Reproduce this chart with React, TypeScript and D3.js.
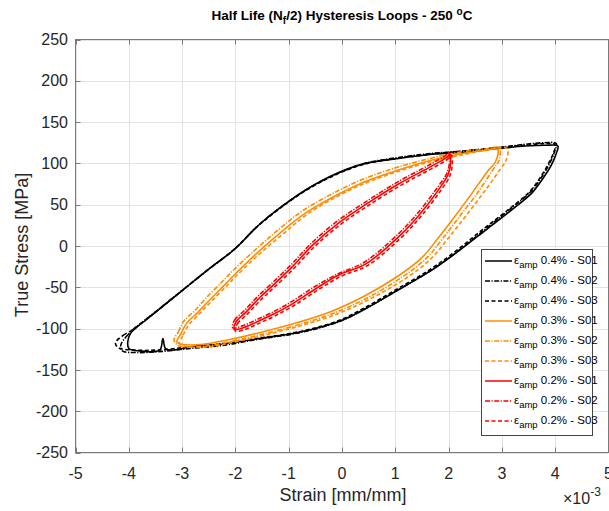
import * as d3 from "d3";

type Pt = [number, number];

// strain in units of 1e-3 mm/mm, stress in MPa
const strainTicks = [-5, -4, -3, -2, -1, 0, 1, 2, 3, 4, 5];
const stressTicks = [-250, -200, -150, -100, -50, 0, 50, 100, 150, 200, 250];

const black_S01: Pt[] = [
  [-4.02, -116], [-3.97, -106], [-3.86, -99], [-3.67, -89], [-3.42, -76], [-3.0, -54], [-2.5, -28], [-2.0, -3],
  [-1.55, 26], [-1.0, 54], [-0.55, 73], [-0.06, 89], [0.44, 100], [1.06, 106], [1.69, 111], [2.31, 114],
  [2.94, 118], [3.44, 121], [3.81, 122], [4.05, 121],
  [4.02, 112], [3.92, 97], [3.75, 80], [3.56, 64], [3.19, 44], [2.69, 19], [2.19, -6], [1.69, -29],
  [1.06, -53], [0.44, -76], [0.0, -90], [-0.5, -100], [-0.93, -106], [-1.55, -112], [-2.17, -118],
  [-2.8, -122], [-3.3, -125], [-3.36, -112], [-3.42, -126], [-3.8, -127], [-4.0, -124],
];
const black_S02: Pt[] = [
  [-4.15, -120], [-4.05, -110], [-3.9, -100], [-3.7, -90], [-3.45, -77], [-3.02, -55], [-2.52, -29], [-2.02, -4],
  [-1.57, 25], [-1.02, 53], [-0.57, 72], [-0.08, 88], [0.42, 100], [1.04, 107], [1.67, 112], [2.29, 115],
  [2.92, 119], [3.42, 123], [3.79, 125], [4.02, 124],
  [3.98, 113], [3.88, 98], [3.72, 81], [3.53, 65], [3.16, 45], [2.66, 19], [2.16, -7], [1.66, -30],
  [1.03, -54], [0.41, -77], [-0.03, -91], [-0.53, -101], [-0.96, -107], [-1.58, -113], [-2.2, -120],
  [-2.83, -124], [-3.45, -128], [-3.85, -129], [-4.12, -127],
];
const black_S03: Pt[] = [
  [-4.25, -117], [-4.1, -108], [-3.92, -101], [-3.72, -91], [-3.46, -78], [-3.04, -56], [-2.54, -30], [-2.04, -5],
  [-1.58, 24], [-1.03, 52], [-0.58, 71], [-0.09, 87], [0.41, 99], [1.03, 106], [1.66, 111], [2.28, 115],
  [2.91, 119], [3.41, 122], [3.78, 124], [4.0, 123],
  [3.97, 113], [3.86, 98], [3.7, 81], [3.51, 65], [3.14, 45], [2.64, 20], [2.14, -6], [1.64, -29],
  [1.01, -53], [0.39, -76], [-0.05, -90], [-0.55, -100], [-0.98, -106], [-1.6, -112], [-2.22, -118],
  [-2.85, -122], [-3.47, -126], [-3.9, -126], [-4.2, -123],
];

const orange_S01: Pt[] = [
  [-3.1, -116], [-3.02, -106], [-2.92, -94], [-2.7, -80], [-2.49, -66], [-2.17, -45], [-1.99, -33], [-1.55, -6],
  [-1.12, 18], [-0.68, 40], [-0.06, 63], [0.44, 78], [1.06, 92], [1.69, 104], [2.19, 111], [2.69, 116], [2.92, 117],
  [2.88, 102], [2.75, 92], [2.44, 64], [2.12, 36], [1.81, 10], [1.5, -14], [1.06, -36], [0.44, -60],
  [-0.19, -79], [-0.85, -93], [-1.55, -105], [-2.17, -114], [-2.6, -119], [-3.0, -119],
];
const orange_S02: Pt[] = [
  [-3.15, -114], [-3.07, -104], [-2.98, -92], [-2.76, -78], [-2.55, -63], [-2.23, -42], [-2.05, -30], [-1.6, -3],
  [-1.17, 21], [-0.73, 43], [-0.1, 66], [0.4, 81], [1.02, 95], [1.65, 106], [2.15, 113], [2.65, 117], [2.95, 119],
  [2.95, 104], [2.85, 94], [2.55, 65], [2.22, 37], [1.9, 10], [1.58, -15], [1.12, -38], [0.5, -62],
  [-0.14, -81], [-0.8, -95], [-1.5, -107], [-2.12, -116], [-2.55, -121], [-3.05, -121],
];
const orange_S03: Pt[] = [
  [-3.05, -118], [-2.98, -108], [-2.88, -96], [-2.66, -81], [-2.45, -67], [-2.13, -46], [-1.95, -34], [-1.52, -8],
  [-1.08, 16], [-0.64, 39], [-0.03, 62], [0.47, 77], [1.09, 91], [1.72, 103], [2.22, 110], [2.72, 116], [3.1, 118],
  [3.08, 104], [2.98, 94], [2.66, 65], [2.33, 37], [2.0, 10], [1.66, -16], [1.2, -39], [0.56, -63],
  [-0.08, -82], [-0.75, -96], [-1.45, -108], [-2.08, -117], [-2.5, -122], [-2.95, -121],
];

const red_S01: Pt[] = [
  [-2.02, -101], [-1.99, -92], [-1.8, -80], [-1.55, -63], [-1.3, -48], [-0.93, -25], [-0.55, 1], [-0.06, 28],
  [0.44, 50], [1.06, 75], [1.69, 97], [1.98, 108], [2.02, 112],
  [2.04, 106], [2.0, 88], [1.81, 68], [1.44, 37], [1.06, 11], [0.44, -22], [-0.06, -35], [-0.5, -52],
  [-0.93, -70], [-1.3, -83], [-1.6, -92], [-1.85, -99],
];
const red_S02: Pt[] = [
  [-2.05, -99], [-2.02, -90], [-1.83, -78], [-1.58, -61], [-1.33, -46], [-0.96, -23], [-0.58, 3], [-0.09, 30],
  [0.41, 52], [1.03, 77], [1.66, 99], [1.95, 110], [2.0, 113],
  [2.02, 107], [1.98, 90], [1.78, 70], [1.41, 39], [1.03, 13], [0.41, -20], [-0.09, -34], [-0.53, -50],
  [-0.96, -68], [-1.33, -81], [-1.63, -90], [-1.88, -97],
];
const red_S03: Pt[] = [
  [-2.0, -103], [-1.96, -94], [-1.77, -82], [-1.52, -65], [-1.27, -50], [-0.9, -27], [-0.52, -1], [-0.03, 26],
  [0.47, 48], [1.09, 73], [1.72, 95], [2.0, 106], [2.05, 110],
  [2.07, 104], [2.03, 86], [1.84, 66], [1.47, 35], [1.09, 9], [0.47, -24], [-0.03, -37], [-0.47, -54],
  [-0.9, -72], [-1.27, -85], [-1.57, -94], [-1.82, -101],
];

const amplitudes = ["0.4%", "0.4%", "0.4%", "0.3%", "0.3%", "0.3%", "0.2%", "0.2%", "0.2%"];
const samples = ["S01", "S02", "S03", "S01", "S02", "S03", "S01", "S02", "S03"];
const loops = [black_S01, black_S02, black_S03, orange_S01, orange_S02, orange_S03, red_S01, red_S02, red_S03];

const BLACK = "#000000";
const ORANGE = "#ff8c00";
const RED = "#ff0000";
const colors = [BLACK, BLACK, BLACK, ORANGE, ORANGE, ORANGE, RED, RED, RED];
const dashFor: Record<string, string | undefined> = {
  S01: undefined,
  S02: "5,1.5,1.2,1.5",
  S03: "4,2.5",
};

const W = 609;
const H = 511;
const left = 75.5;
const right = 608.5;
const top = 39.5;
const bottom = 452.5;
const FONT = "'Liberation Sans', Arial, sans-serif";

export default function App() {
  const x = d3.scaleLinear().domain([-5, 5]).range([left, right]);
  const y = d3.scaleLinear().domain([-250, 250]).range([bottom, top]);

  const line = d3
    .line<Pt>()
    .x((d) => x(d[0]))
    .y((d) => y(d[1]))
    .curve(d3.curveCatmullRomClosed.alpha(0.5));

  const legX = 481.5;
  const legY = 249.5;

  return (
    <svg
      width={W}
      height={H}
      style={{ position: "absolute", left: 0, top: 0, background: "#fff" }}
      fontFamily={FONT}
    >
      {/* grid */}
      {strainTicks.map((t) => (
        <line key={"gx" + t} x1={Math.round(x(t)) + 0.5} x2={Math.round(x(t)) + 0.5} y1={top} y2={bottom} stroke="#e3e3e3" />
      ))}
      {stressTicks.map((t) => (
        <line key={"gy" + t} x1={left} x2={right} y1={Math.round(y(t)) + 0.5} y2={Math.round(y(t)) + 0.5} stroke="#e3e3e3" />
      ))}

      {/* loops */}
      {loops.map((pts, i) => (
        <path
          key={"loop" + i}
          d={line(pts) || ""}
          fill="none"
          stroke={colors[i]}
          strokeWidth={1.6}
          strokeDasharray={dashFor[samples[i]]}
          strokeLinejoin="round"
        />
      ))}

      {/* axes box */}
      <rect x={left} y={top} width={right - left} height={bottom - top} fill="none" stroke="#7a7a7a" />
      {strainTicks.map((t) => (
        <g key={"tx" + t}>
          <line x1={Math.round(x(t)) + 0.5} x2={Math.round(x(t)) + 0.5} y1={bottom} y2={bottom - 5} stroke="#7a7a7a" />
          <line x1={Math.round(x(t)) + 0.5} x2={Math.round(x(t)) + 0.5} y1={top} y2={top + 5} stroke="#7a7a7a" />
          <text x={x(t)} y={479} textAnchor="middle" fontSize={16} fill="#262626">
            {t}
          </text>
        </g>
      ))}
      {stressTicks.map((t) => (
        <g key={"ty" + t}>
          <line x1={left} x2={left + 5} y1={Math.round(y(t)) + 0.5} y2={Math.round(y(t)) + 0.5} stroke="#7a7a7a" />
          <text x={68} y={y(t)} dy="0.35em" textAnchor="end" fontSize={16} fill="#262626">
            {t}
          </text>
        </g>
      ))}

      {/* titles */}
      <text x={342} y={20} textAnchor="middle" fontSize={13.5} fontWeight="bold" fill="#000">
        Half Life (N<tspan fontSize={10} dy={4}>f</tspan>
        <tspan dy={-4}>/2) Hysteresis Loops - 250 </tspan>
        <tspan fontSize={10} dy={-5}>o</tspan>
        <tspan dy={5}>C</tspan>
      </text>
      <text x={343} y={501} textAnchor="middle" fontSize={18} fill="#262626">
        Strain [mm/mm]
      </text>
      <text x={563} y={504} fontSize={16} fill="#262626">
        ×10<tspan fontSize={12} dy={-8}>-3</tspan>
      </text>
      <text transform="translate(28,245) rotate(-90)" textAnchor="middle" fontSize={18} fill="#262626">
        True Stress [MPa]
      </text>

      {/* legend */}
      <rect x={legX} y={legY} width={111} height={186} fill="#fff" stroke="#444" />
      {samples.map((s, i) => {
        const ry = 261 + i * 20;
        return (
          <g key={"leg" + i}>
            <line x1={485} x2={512} y1={ry} y2={ry} stroke={colors[i]} strokeWidth={1.5} strokeDasharray={dashFor[s]} />
            <text x={514} y={ry} dy="0.3em" fontSize={11.5} fill="#000">
              ε<tspan fontSize={9.5} dy={4}>amp</tspan>
              <tspan dy={-4}> {amplitudes[i]} - {s}</tspan>
            </text>
          </g>
        );
      })}
    </svg>
  );
}
